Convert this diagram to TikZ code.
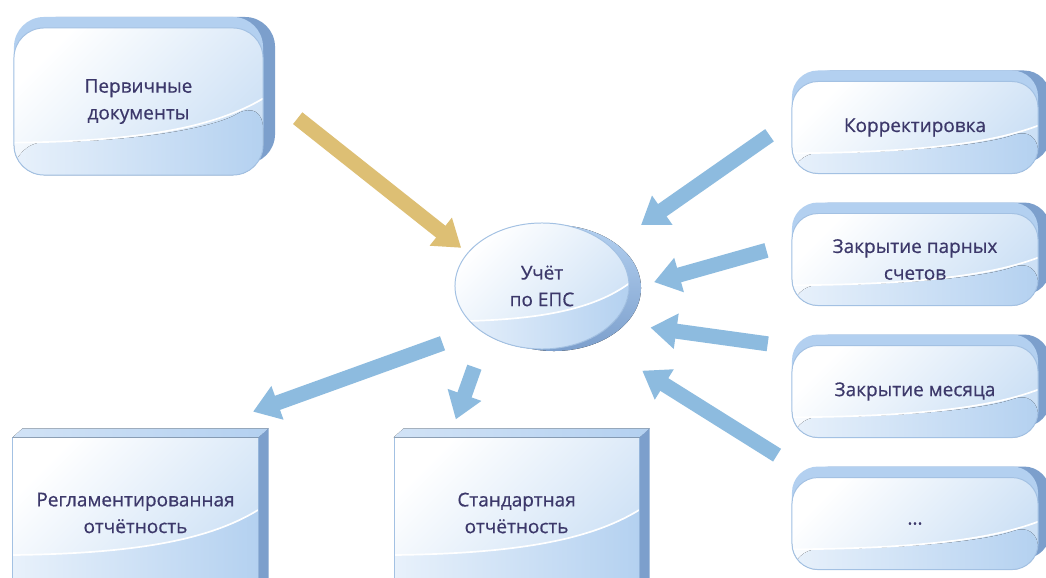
\documentclass[tikz,border=0pt]{standalone}
\usepackage{fontspec}
\setmainfont{Open Sans}[BoldFont={Open Sans}, BoldFeatures={FakeBold=0.6}]
\usepackage{xcolor}
\usepackage{tikz}
\usetikzlibrary{shapes.geometric, arrows.meta, positioning, shadows, calc}

\definecolor{txt}{HTML}{3C386A}
\definecolor{edge}{HTML}{A3C1E3}
\definecolor{face}{HTML}{CCE0F5}
\definecolor{glossL}{HTML}{E8F1FB}
\definecolor{glossR}{HTML}{B4D1F0}
\definecolor{sidedark}{HTML}{7C9FCC}
\definecolor{sidelight}{HTML}{B3D0F0}
\definecolor{arrblue}{HTML}{8DBBDF}
\definecolor{arrgold}{HTML}{DDBF74}

\begin{document}
\begin{tikzpicture}[
    x=0.025cm, y=-0.025cm,
    node distance=0.975cm and 3.375cm,
    every node/.style={font=\fontsize{13.5}{19}\selectfont\bfseries, text=txt, align=center},
    gloss/.style={path picture={
        \path (path picture bounding box.south west) coordinate (gsw)
              (path picture bounding box.south east) coordinate (gse)
              (path picture bounding box.north west) coordinate (gnw)
              (path picture bounding box.north east) coordinate (gne);
        \fill[left color=glossL, right color=glossR] ($(gsw)!0.22!(gnw)$)
            .. controls ($($(gsw)!0.5!(gse)$)!0.23!($(gnw)!0.5!(gne)$)$) and ($($(gsw)!0.8!(gse)$)!0.32!($(gnw)!0.8!(gne)$)$)
            .. ($(gse)!0.52!(gne)$) -- (gse) -- (gsw) -- cycle;
        \draw[white, line width=1.2pt] ($(gsw)!0.22!(gnw)$)
            .. controls ($($(gsw)!0.5!(gse)$)!0.23!($(gnw)!0.5!(gne)$)$) and ($($(gsw)!0.8!(gse)$)!0.32!($(gnw)!0.8!(gne)$)$)
            .. ($(gse)!0.52!(gne)$);}},
    face/.style={draw=edge, line width=0.7pt, top color=white, bottom color=face, shading angle=45, gloss},
    roundbox/.style={face, rounded corners=0.65cm, minimum width=6.15cm, minimum height=2.3cm,
        copy shadow={shadow xshift=0.3cm, shadow yshift=0.275cm, fill=sidedark, draw=none},
        copy shadow={shadow xshift=0cm, shadow yshift=0.275cm, fill=sidelight, draw=none}},
    rectbox/.style={face, minimum width=6.125cm, minimum height=3.75cm},
    bigarrow/.style={line width=0.375cm, draw=arrblue, -{Triangle[width=0.85cm, length=0.65cm]}}
]
    \useasboundingbox (0,0) rectangle (1046,578);
    \fill[white] (0,0) rectangle (1046,578);
    \clip (0,0) rectangle (1046,578);

    % sources
    \node[roundbox, rounded corners=0.75cm, minimum width=6.225cm, minimum height=3.675cm] (prim) at (138.5,101.5) {Первичные\\документы};
    \node[roundbox] (korr) at (915,127.5) {Корректировка};
    \node[roundbox, below=of korr] (zpar) {Закрытие парных\\счетов};
    \node[roundbox, below=of zpar] (zmes) {Закрытие месяца};
    \node[roundbox, below=of zmes] (dots) {...};

    % centre
    \node[ellipse, face, minimum width=4.35cm, minimum height=3.15cm,
        copy shadow={shadow xshift=0.3cm, shadow yshift=-0.05cm, top color=sidelight, bottom color=sidedark, draw=none}] (eps) at (542,286) {Учёт\\по ЕПС};

    % reports
    \node[rectbox] (regl) at (135.5,513) {Регламентированная\\отчётность};
    \node[rectbox, right=of regl] (std) {Стандартная\\отчётность};
    \foreach \b in {regl, std} {
        \fill[left color=sidelight!60!white, right color=sidelight] (\b.north west) -- ++(0.25cm,0.225cm) -- ([shift={(0.25cm,0.225cm)}]\b.north east) -- (\b.north east) -- cycle;
        \fill[sidedark] (\b.north east) -- ++(0.25cm,0.225cm) -- ([shift={(0.25cm,0.225cm)}]\b.south east) -- (\b.south east) -- cycle;
    }

    % arrows
    \draw[bigarrow, draw=arrgold, shorten <=1.09cm, shorten >=0.2cm] ([yshift=0.26cm]prim.east) -- (eps.156);
    \draw[bigarrow, shorten <=0.67cm, shorten >=0.93cm] ([yshift=0.19cm]korr.west) -- (eps.30.6);
    \draw[bigarrow, shorten <=0.65cm, shorten >=0.64cm] ([yshift=0.405cm]zpar.west) -- (eps.-2.9);
    \draw[bigarrow, shorten <=0.6cm, shorten >=0.93cm] ([yshift=1.11cm]zmes.west) -- (eps.-27);
    \draw[bigarrow, shorten <=1.03cm, shorten >=1.51cm] ([xshift=-2.575cm]dots.north) -- (eps.-47.2);
    \draw[bigarrow, shorten <=0.97cm, shorten >=1.9cm] (eps.215) -- ([xshift=1.15cm]regl.north);
    \draw[bigarrow, shorten <=0.86cm, shorten >=0.48cm] (eps.221.7) -- ([xshift=-1.68cm]std.north);

\end{tikzpicture}
\end{document}
